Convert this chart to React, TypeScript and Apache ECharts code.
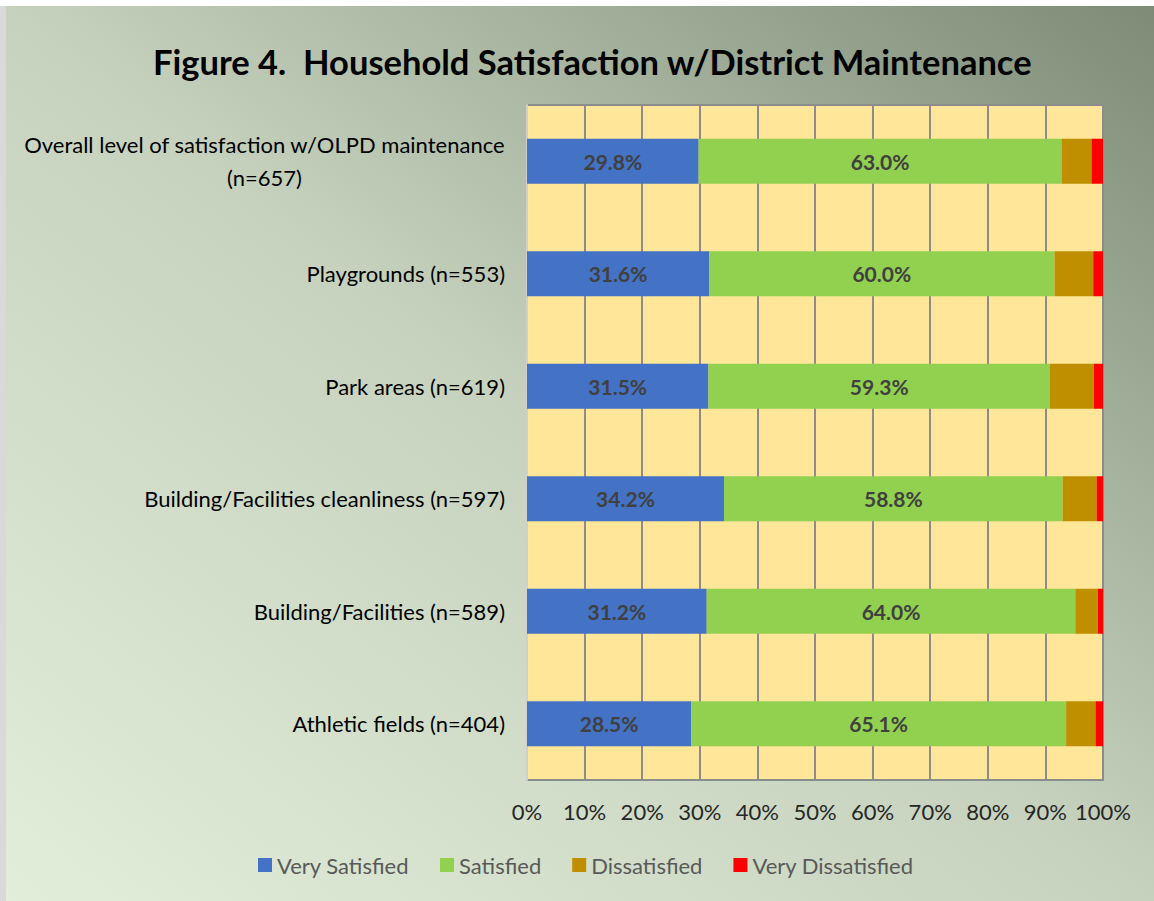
import React, { useEffect, useRef } from "react";
import * as echarts from "echarts";

const categories = [
  "Overall level of satisfaction w/OLPD maintenance\n(n=657)",
  "Playgrounds (n=553)",
  "Park areas (n=619)",
  "Building/Facilities cleanliness (n=597)",
  "Building/Facilities (n=589)",
  "Athletic fields (n=404)",
];
const verySatisfied = [29.8, 31.6, 31.5, 34.2, 31.2, 28.5];
const satisfied = [63.0, 60.0, 59.3, 58.8, 64.0, 65.1];
const dissatisfied = [5.2, 6.7, 7.6, 5.9, 3.9, 5.1];
const veryDissatisfied = [2.0, 1.7, 1.6, 1.1, 0.9, 1.3];
const seriesNames = ["Very Satisfied", "Satisfied", "Dissatisfied", "Very Dissatisfied"];
const colors = ["#4472C4", "#92D050", "#BF8F00", "#FF0000"];
const titleText = "Figure 4.  Household Satisfaction w/District Maintenance";

const FONT = "Lato";

export default function App() {
  const ref = useRef<HTMLDivElement>(null);
  useEffect(() => {
    if (!ref.current) return;
    const chart = echarts.init(ref.current, null, { renderer: "svg" });
    const data = [verySatisfied, satisfied, dissatisfied, veryDissatisfied];
    chart.setOption({
      animation: false,
      backgroundColor: new echarts.graphic.LinearGradient(0, 1, 1, 0, [
        { offset: 0, color: "#E2EEDA" },
        { offset: 0.5, color: "#C6D2BD" },
        { offset: 1, color: "#7D8B77" },
      ]),
      title: {
        text: titleText,
        left: 142,
        top: 33,
        textStyle: { fontFamily: FONT, fontWeight: "bold", fontSize: 34.5, color: "#000" },
      },
      legend: {
        data: seriesNames,
        left: 247,
        top: 843,
        icon: "rect",
        itemWidth: 14,
        itemHeight: 14,
        itemGap: 31,
        textStyle: { fontFamily: FONT, fontSize: 22, color: "#595959" },
      },
      grid: {
        left: 521,
        top: 99,
        width: 576,
        height: 675,
        show: true,
        backgroundColor: "#FFE699",
        borderColor: "#8C8C8C",
        borderWidth: 2,
        containLabel: false,
      },
      xAxis: {
        type: "value",
        min: 0,
        max: 100,
        interval: 10,
        axisLine: { show: false },
        axisTick: { show: false },
        splitLine: { show: true, lineStyle: { color: "#8C8C8C", width: 2 } },
        axisLabel: {
          margin: 20,
          formatter: "{value}%",
          fontFamily: FONT,
          fontSize: 22,
          color: "#262626",
        },
      },
      yAxis: {
        type: "category",
        data: categories,
        inverse: true,
        axisLine: { show: true, lineStyle: { color: "#CFCFCF", width: 2 } },
        axisTick: { show: false },
        axisLabel: {
          margin: 22,
          fontFamily: FONT,
          fontSize: 22,
          color: "#000",
          lineHeight: 33,
          formatter: (v: string) =>
            v
              .split("\n")
              .map((l) => "{c|" + l + "}")
              .join("\n"),
          rich: { c: { align: "center", fontFamily: FONT, fontSize: 22, color: "#000", lineHeight: 33 } },
        },
      },
      series: seriesNames.map((name, i) => ({
        name,
        type: "bar",
        stack: "total",
        barWidth: "40%",
        data: data[i],
        itemStyle: { color: colors[i] },
        label: {
          show: i < 2,
          position: "inside",
          formatter: (p: any) => p.value.toFixed(1) + "%",
          fontFamily: FONT,
          fontWeight: "bold",
          fontSize: 21,
          color: "#404040",
        },
      })),
    });
    return () => chart.dispose();
  }, []);
  return (
    <div
      style={{
        position: "fixed",
        left: 0,
        top: 0,
        width: 1154,
        height: 901,
        background: "#fff",
      }}
    >
      <div style={{ position: "absolute", left: 0, top: 6, width: 6, height: 895, background: "#D9D9D9" }} />
      <div ref={ref} style={{ position: "absolute", left: 6, top: 6, width: 1148, height: 895 }} />
    </div>
  );
}
